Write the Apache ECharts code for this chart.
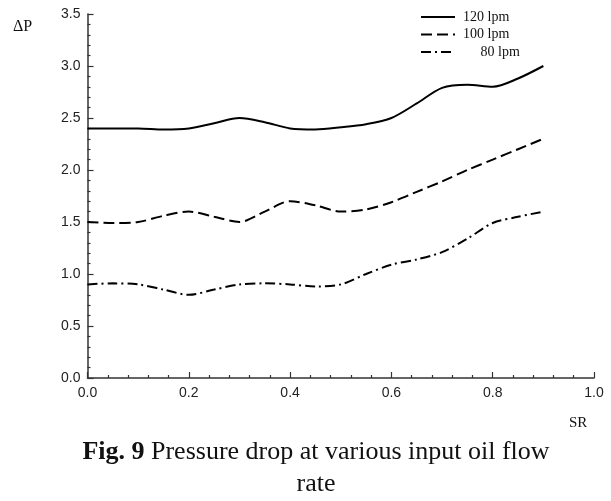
<!DOCTYPE html>
<html><head><meta charset="utf-8">
<script src="https://cdn.jsdelivr.net/npm/echarts@6/dist/echarts.min.js"></script>
<style>html,body{margin:0;padding:0;background:#fff}#c{width:611px;height:501px}</style>
</head><body><div id="c"></div>
<script>
var sr = [0,0.05,0.1,0.15,0.2,0.25,0.3,0.35,0.4,0.45,0.5,0.55,0.6,0.65,0.7,0.75,0.8,0.85,0.9];
var lpm120 = [2.40,2.40,2.40,2.39,2.40,2.45,2.50,2.46,2.40,2.39,2.41,2.44,2.50,2.64,2.79,2.82,2.80,2.88,3.00];
var lpm100 = [1.50,1.49,1.50,1.56,1.60,1.55,1.50,1.60,1.70,1.66,1.60,1.62,1.69,1.79,1.89,2.00,2.10,2.20,2.30];
var lpm80  = [0.90,0.91,0.90,0.85,0.80,0.85,0.90,0.91,0.90,0.88,0.90,1.00,1.09,1.14,1.21,1.34,1.49,1.55,1.60];
var seriesNames = ['120 lpm','100 lpm','80 lpm'];
var xTicks = [0,0.2,0.4,0.6,0.8,1.0];
var yTicks = [0,0.5,1.0,1.5,2.0,2.5,3.0,3.5];

function pairs(v){ return sr.map(function(x,i){ return [x, v[i]]; }); }
var chart = echarts.init(document.getElementById('c'));
var axisCol = '#333';
var lblStyle = {fontFamily:'Liberation Sans', fontSize:14, color:'#222'};
chart.setOption({
  animation:false,
  grid:{left:87.5, right:17, top:14, bottom:123, containLabel:false},
  legend:{
    orient:'vertical', left:415, top:5, itemWidth:34, itemHeight:14, itemGap:3.5,
    data:seriesNames,
    itemStyle:{opacity:0},
    formatter:function(n){ return n==='80 lpm' ? '     80 lpm' : n; },
    textStyle:{fontFamily:'Liberation Serif', fontSize:14, color:'#111', padding:[0,0,0,3]}
  },
  xAxis:{type:'value', min:xTicks[0], max:xTicks[xTicks.length-1], interval:0.2,
    axisLine:{lineStyle:{color:axisCol, width:1.5}},
    axisTick:{inside:true, length:6, lineStyle:{color:axisCol, width:1.2}},
    minorTick:{show:true, splitNumber:5, length:3, lineStyle:{color:axisCol, width:1.2}},
    splitLine:{show:false},
    axisLabel:Object.assign({margin:8, formatter:function(v){return v.toFixed(1);}}, lblStyle)
  },
  yAxis:{type:'value', min:yTicks[0], max:yTicks[yTicks.length-1], interval:0.5,
    axisLine:{show:true, lineStyle:{color:axisCol, width:1.5}},
    axisTick:{show:true, inside:true, length:6, lineStyle:{color:axisCol, width:1.2}},
    minorTick:{show:true, splitNumber:5, length:3, lineStyle:{color:axisCol, width:1.2}},
    splitLine:{show:false},
    axisLabel:Object.assign({margin:7, formatter:function(v){return v.toFixed(1);}}, lblStyle)
  },
  graphic:[
    {type:'text', x:13, y:19, style:{text:'ΔP', font:'16px "Liberation Serif"', fill:'#111'}},
    {type:'text', x:569, y:416, style:{text:'SR', font:'15px "Liberation Serif"', fill:'#111'}},
    {type:'text', x:316, y:436, style:{
      text:'{b|Fig. 9} Pressure drop at various input oil flow\nrate',
      font:'26px "Liberation Serif"', fill:'#111', align:'center', verticalAlign:'top', lineHeight:32,
      rich:{b:{fontWeight:'bold', fontFamily:'Liberation Serif', fontSize:26, lineHeight:32}}
    }}
  ],
  series:[
    {name:seriesNames[0], type:'line', data:pairs(lpm120), smooth:0.3, symbol:'none',
      lineStyle:{color:'#000', width:2, type:'solid'}, itemStyle:{color:'#000'}},
    {name:seriesNames[1], type:'line', data:pairs(lpm100), smooth:0.3, symbol:'none',
      lineStyle:{color:'#000', width:2, type:[11,5]}, itemStyle:{color:'#000'}},
    {name:seriesNames[2], type:'line', data:pairs(lpm80), smooth:0.3, symbol:'none',
      lineStyle:{color:'#000', width:2, type:[10,4,2,4]}, itemStyle:{color:'#000'}}
  ]
});
</script></body></html>
